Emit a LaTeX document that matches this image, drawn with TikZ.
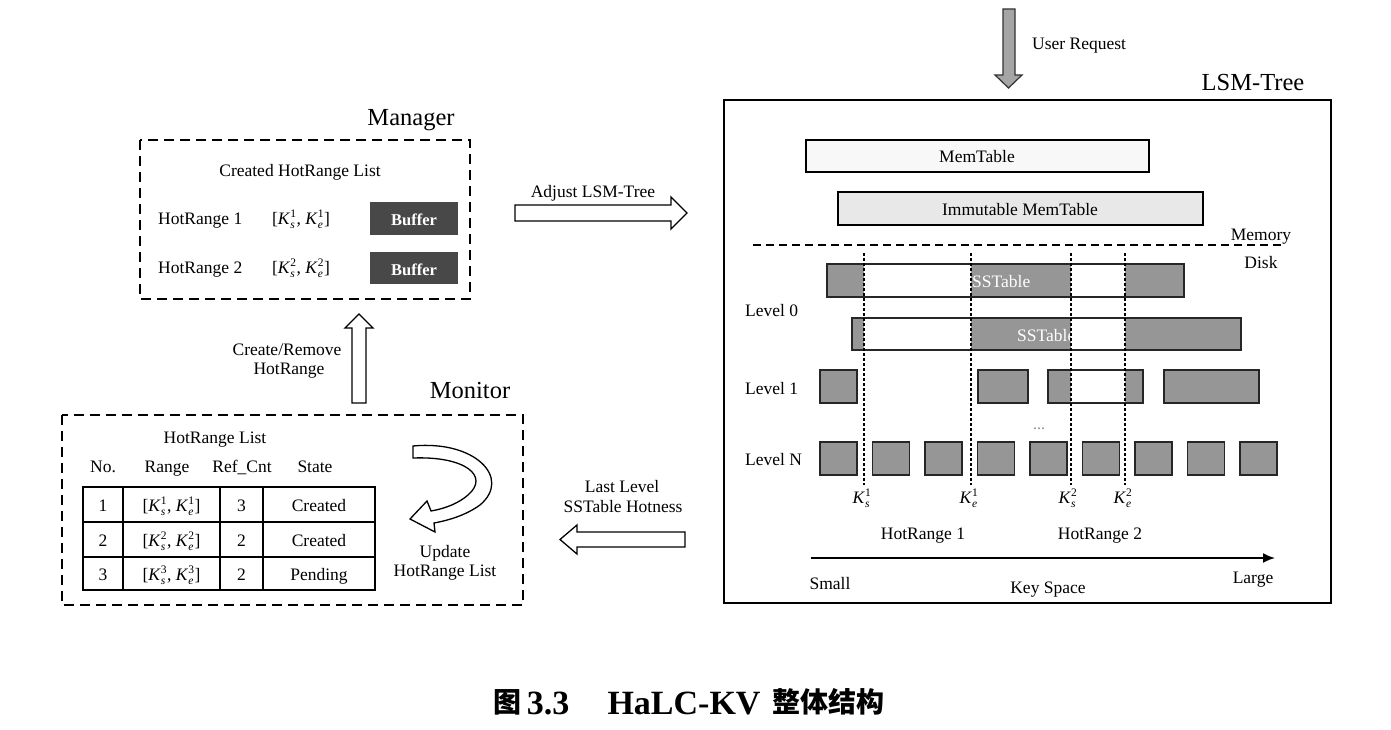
\documentclass[tikz,border=0pt]{standalone}
\usepackage{fontspec}
\setmainfont{Liberation Serif}
\newfontfamily\cjkfont{Noto Sans CJK SC}
\usetikzlibrary{arrows.meta}
\definecolor{sstgray}{RGB}{150,150,150}
\definecolor{buffgray}{RGB}{72,72,72}
\definecolor{memfill}{RGB}{248,248,248}
\definecolor{immfill}{RGB}{232,232,232}
\definecolor{reqgray}{RGB}{165,165,165}
\newcommand{\Kx}[2]{\textit{K}$_{\mbox{\fontsize{11.5}{12}\selectfont\itshape #1}}^{\mbox{\fontsize{11.5}{12}\selectfont #2}}$}
\begin{document}
\begin{tikzpicture}[x=1pt,y=-1pt,font=\fontsize{17.5}{21}\selectfont,
  txt/.style={inner sep=0pt,anchor=base},
  txtw/.style={inner sep=0pt,anchor=base west},
  big/.style={txt,font=\fontsize{24.5}{28}\selectfont},
  dashbox/.style={draw,line width=1.4pt,dash pattern=on 10pt off 6pt},
  hollow/.style={draw,line width=1.3pt,fill=white,line join=miter},
  sstbox/.style={fill=sstgray,draw=black!85,line width=1.2pt},
  hotline/.style={line width=1.8pt,dash pattern=on 3pt off 2pt},
  wtxt/.style={txtw,text=white},
]
\fill[white] (0,0) rectangle (1391,730);
\useasboundingbox (0,0) rectangle (1391,730);

% ---------------- Manager ----------------
\draw[dashbox] (140,140) rectangle (470,299);
\node[big] (mgrlbl) at (411,126) {Manager};
\node[txt] (crlist) at (300,177) {Created HotRange List};
\node[txtw] (hr1) at (158,224) {HotRange 1};
\node[txt] (hr1k) at (301,224) {[\Kx{s}{1}, \Kx{e}{1}]};
\node[txtw] (hr2) at (158,273) {HotRange 2};
\node[txt] (hr2k) at (301,273) {[\Kx{s}{2}, \Kx{e}{2}]};
\fill[buffgray] (370,202) rectangle (458,235);
\node[txt,text=white,font=\bfseries\fontsize{16.5}{20}\selectfont] (buf1) at (414,225) {Buffer};
\fill[buffgray] (370,252) rectangle (458,284);
\node[txt,text=white,font=\bfseries\fontsize{16.5}{20}\selectfont] (buf2) at (414,275) {Buffer};

% Create/Remove arrow
\coordinate (crb) at (359,403);
\draw[hollow] (352,403) -- (352,328) -- (345,328) -- (359,314) -- (373,328) -- (366,328) -- (366,403) -- cycle;
\node[txt] (crlbl1) at (287,355) {Create/Remove};
\node[txt] (crlbl2) at (289,374) {HotRange};

% ---------------- Monitor ----------------
\draw[dashbox] (62,415) rectangle (523,605);
\node[big] (monlbl) at (470,398) {Monitor};
\node[txt] (hrlist) at (215,443) {HotRange List};
\node[txt] (hno) at (103,472) {No.};
\node[txt] (hrange) at (167,472) {Range};
\node[txt] (hrc) at (242,472) {Ref\_Cnt};
\node[txt] (hstate) at (315,472) {State};
\draw[line width=1.6pt] (83,487) rectangle (375,590);
\draw[line width=1.6pt] (83,522) -- (375,522) (83,557) -- (375,557)
  (123,487) -- (123,590) (220,487) -- (220,590) (263,487) -- (263,590);
\node[txt] (c11) at (103,511) {1};
\node[txt] (c12) at (171.5,511) {[\Kx{s}{1}, \Kx{e}{1}]};
\node[txt] (c13) at (241.5,511) {3};
\node[txt] (c14) at (319,511) {Created};
\node[txt] (c21) at (103,546) {2};
\node[txt] (c22) at (171.5,546) {[\Kx{s}{2}, \Kx{e}{2}]};
\node[txt] (c23) at (241.5,546) {2};
\node[txt] (c24) at (319,546) {Created};
\node[txt] (c31) at (103,580) {3};
\node[txt] (c32) at (171.5,580) {[\Kx{s}{3}, \Kx{e}{3}]};
\node[txt] (c33) at (241.5,580) {2};
\node[txt] (c34) at (319,580) {Pending};
% curved update arrow
\draw[hollow] (413,446) .. controls (475,440) and (512,478) .. (480,505)
  .. controls (466,515) and (450,520) .. (434,523) -- (435,532) -- (410,519) -- (427,501) -- (431,511)
  .. controls (448,508) and (460,502) .. (468,495)
  .. controls (490,476) and (465,456) .. (413,458) -- cycle;
\node[txt] (upd1) at (445,557) {Update};
\node[txt] (upd2) at (445,576) {HotRange List};

% ---------------- middle arrows ----------------
\draw[hollow] (515,205) -- (671,205) -- (671,197) -- (687,213) -- (671,229) -- (671,221) -- (515,221) -- cycle;
\node[txt] (adj) at (593,197) {Adjust LSM-Tree};
\draw[hollow] (685,532) -- (577,532) -- (577,525) -- (560,539.5) -- (577,554) -- (577,547) -- (685,547) -- cycle;
\node[txt] (ll1) at (622,492) {Last Level};
\node[txt] (ll2) at (623,512) {SSTable Hotness};

% ---------------- LSM-Tree ----------------
\draw[line width=1.5pt] (724,100) rectangle (1331,603);
\node[big] (lsmlbl) at (1253,91) {LSM-Tree};
\draw[fill=reqgray,draw=black!80,line width=1.2pt] (1003,9) -- (1015,9) -- (1015,75) -- (1022,75) -- (1008.5,88) -- (995,75) -- (1003,75) -- cycle;
\node[txtw] (ureq) at (1032,50) {User Request};

\draw[fill=memfill,line width=1.2pt] (806,140) rectangle (1149,172);
\node[txt] (mem) at (977,163) {MemTable};
\draw[fill=immfill,line width=1.2pt] (838,192) rectangle (1203,225);
\node[txt] (imm) at (1020,215) {Immutable MemTable};
\draw[line width=1.5pt,dash pattern=on 8pt off 5pt] (753,245) -- (1283,245);
\node[txt] (memlbl) at (1261,240) {Memory};
\node[txt] (disklbl) at (1261,268) {Disk};

% Level 0
\fill[sstgray] (827,264) rectangle (1184,297);
\node[wtxt] (sst1) at (972,287) {SSTable};
\fill[white] (864,264) rectangle (971,297);
\fill[white] (1071,264) rectangle (1125,297);
\draw[line width=1.2pt,draw=black!85] (827,264) rectangle (1184,297);

\fill[sstgray] (852,318) rectangle (1241,350);
\node[wtxt] (sst2) at (1017,341) {SSTable};
\fill[white] (864,318) rectangle (971,350);
\fill[white] (1071,318) rectangle (1125,350);
\draw[line width=1.2pt,draw=black!85] (852,318) rectangle (1241,350);

% Level 1
\draw[sstbox] (820,370) rectangle (857,403);
\draw[sstbox] (978,370) rectangle (1028,403);
\fill[sstgray] (1048,370) rectangle (1143,403);
\fill[white] (1071,370) rectangle (1125,403);
\draw[line width=1.2pt,draw=black!85] (1048,370) rectangle (1143,403);
\draw[sstbox] (1164,370) rectangle (1259,403);
\node[txt,text=black!45,font=\fontsize{16}{18}\selectfont] (dots) at (1039,429) {...};

% Level N
\foreach \i in {0,...,8} {
  \draw[sstbox] ({820+52.5*\i},442) rectangle ++(37,33);
}

\node[txtw] (lv0) at (745,316) {Level 0};
\node[txtw] (lv1) at (745,394) {Level 1};
\node[txtw] (lvn) at (745,465) {Level N};

% hot range boundaries
\coordinate (ks1t) at (864,253); \coordinate (ks1b) at (864,485);
\coordinate (ke1t) at (971,253); \coordinate (ke1b) at (971,485);
\coordinate (ks2t) at (1071,253); \coordinate (ks2b) at (1071,485);
\coordinate (ke2t) at (1125,253); \coordinate (ke2b) at (1125,485);
\draw[hotline] (ks1t) -- (ks1b);
\draw[hotline] (ke1t) -- (ke1b);
\draw[hotline] (ks2t) -- (ks2b);
\draw[hotline] (ke2t) -- (ke2b);
\node[txt] (lks1) at (862,503) {\Kx{s}{1}};
\node[txt] (lke1) at (969,503) {\Kx{e}{1}};
\node[txt] (lks2) at (1068,503) {\Kx{s}{2}};
\node[txt] (lke2) at (1123,503) {\Kx{e}{2}};
\node[txt] (hrl1) at (923,539) {HotRange 1};
\node[txt] (hrl2) at (1100,539) {HotRange 2};

% key space axis
\coordinate (ax0) at (811,558);
\coordinate (ax1) at (1275,558);
\draw[line width=1.8pt,-{Latex[length=12pt,width=10pt]}] (ax0) -- (ax1);
\node[txt] (small) at (830,589) {Small};
\node[txt] (large) at (1253,583) {Large};
\node[txt] (keysp) at (1048,593) {Key Space};

% ---------------- caption ----------------
\node[txt,font=\cjkfont\bfseries\fontsize{28}{30}\selectfont] (capfig) at (507,712) {图};
\node[txt,font=\bfseries\fontsize{34}{36}\selectfont] (capnum) at (548,714) {3.3};
\node[txt,font=\bfseries\fontsize{34}{36}\selectfont] (capname) at (684,714) {HaLC-KV};
\node[txt,font=\cjkfont\bfseries\fontsize{28}{30}\selectfont] (captext) at (828,712) {整体结构};
\end{tikzpicture}
\end{document}
